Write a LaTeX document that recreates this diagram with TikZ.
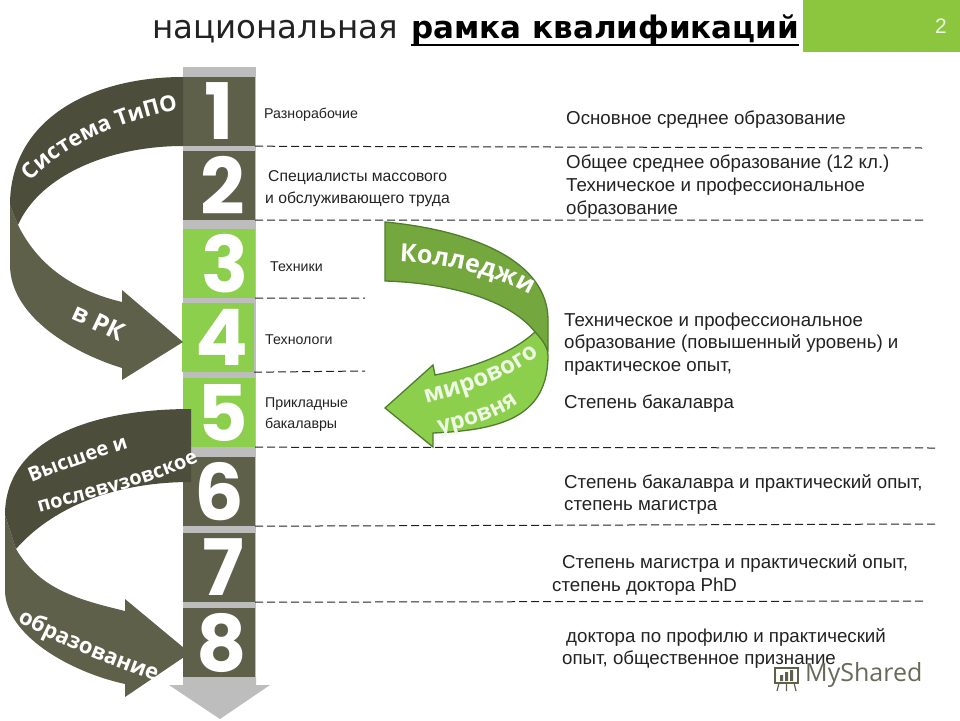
\documentclass[tikz,border=0pt]{standalone}
\usepackage{fontspec}
\setmainfont{Liberation Sans}
\newfontfamily\titlefont{DejaVu Sans}
\newfontfamily\ribbonfont{Open Sans}
\newfontfamily\digitfont{Poppins}
\usetikzlibrary{decorations.text}

\definecolor{olive}{HTML}{5E6049}
\definecolor{olivedark}{HTML}{4C4E3B}
\definecolor{leaf}{HTML}{8CCF4D}
\definecolor{leafdark}{HTML}{74A83F}
\definecolor{leafedge}{HTML}{4F7D2C}
\definecolor{badge}{HTML}{8CC63F}
\definecolor{column}{HTML}{BDBDBD}
\definecolor{ink}{HTML}{222222}

\newcommand{\lvl}[2]{\hspace*{#1pt}\raisebox{-5pt}{#2}}

\tikzset{
  tile/.style={minimum width=72pt,minimum height=69pt,inner sep=0pt,text=white,font=\digitfont\fontsize{78}{78}\selectfont\bfseries},
  oldtile/.style={tile,fill=olive},
  newtile/.style={tile,fill=leaf},
  small/.style={anchor=west,inner sep=0pt,yshift=-2pt,align=left,text=ink,font=\fontsize{14.2}{21.5}\selectfont},
  big/.style={anchor=west,inner sep=0pt,yshift=-2pt,align=left,text=ink,font=\fontsize{18.7}{22.7}\selectfont},
  ruleline/.style={draw=ink,line width=1pt,dash pattern=on 8pt off 4pt},
  curvetext/.style={decorate,decoration={text along path,text align=center,text={#1}}}
}

\begin{document}
\begin{tikzpicture}[x=1pt,y=-1pt]
  \useasboundingbox (0,0) rectangle (960,720);

  % title and page number
  \node[anchor=base west,inner sep=0pt,text=ink,font=\titlefont\fontsize{32.5}{36}\selectfont] (title) at (152,38) {национальная};
  \node[anchor=base west,inner sep=0pt,text=black,font=\titlefont\fontsize{31}{36}\selectfont\bfseries] (titlebold) at (411,38) {рамка квалификаций};
  \draw[black,line width=2.2pt] (titlebold.south west) -- (titlebold.south east);
  \node[fill=badge,minimum width=157pt,minimum height=52pt,inner sep=0pt] (badge) at (881.5,26) {};
  \node[text=white!85!badge,font=\fontsize{21}{21}\selectfont] (pagenum) at (941,26) {2};

  % lower part of the second ribbon goes under the column
  \fill[olive] (5,515) -- (5,590) .. controls (5,635) and (70,672) .. (125,684) -- (125,697) -- (190,653)
    -- (125,599) -- (125,611) .. controls (80,600) and (40,590) .. (16,549) -- cycle;

  % column
  \fill[column] (183,67) rectangle (256,680);
  \fill[column] (183,677) -- (183,685) -- (169,685) -- (220,719) -- (270,685) -- (256,685) -- (256,677) -- cycle;

  \node[oldtile] (tile1) at (219,111.5) {\lvl{0}{1}};
  \node[oldtile] (tile2) at (219,185.5) {\lvl{8}{2}};
  \node[newtile] (tile3) at (219,263.5) {\lvl{12}{3}};
  \node[newtile] (tile4) at (218,337.5) {\lvl{7}{4}};
  \node[newtile] (tile5) at (219,412.5) {\lvl{8}{5}};
  \node[oldtile] (tile6) at (219,491.5) {\lvl{0}{6}};
  \node[oldtile] (tile7) at (219,567.5) {\lvl{8}{7}};
  \node[oldtile] (tile8) at (219,642.5) {\lvl{6}{8}};

  % dashed rules
  \coordinate (rule1) at (922,148);
  \coordinate (rule2) at (926,220);
  \coordinate (rule3) at (365,298);
  \coordinate (rule4) at (365,371);
  \coordinate (rule5) at (935,448);
  \coordinate (rule6) at (935,524);
  \coordinate (rule7) at (925,601);
  \draw[ruleline] (tile1.south east) -- (rule1);
  \draw[ruleline] (tile2.south east) -- (rule2);
  \draw[ruleline] (tile3.south east) -- (rule3);
  \draw[ruleline] (tile4.south east) -- (rule4);
  \draw[ruleline] (tile5.south east) -- (rule5);
  \draw[ruleline] (tile6.south east) -- (rule6);
  \draw[ruleline] (tile7.south east) -- (rule7);

  % first ribbon
  \fill[olive] (10,205) -- (10,265) .. controls (10,315) and (70,352) .. (122,368) -- (122,380) -- (183,342)
    -- (122,290) -- (122,302) .. controls (80,292) and (40,270) .. (18,225) -- cycle;
  \fill[olivedark] (183,77) .. controls (90,77) and (10,120) .. (10,205) -- (18,225)
    .. controls (40,175) and (110,146) .. (183,146) -- cycle;

  % second ribbon
  \fill[olivedark] (191,409) .. controls (90,409) and (5,440) .. (5,515) -- (16,549)
    .. controls (50,510) and (110,482) .. (191,482) -- cycle;

  % college ribbon
  \filldraw[draw=leafedge,fill=leafdark,line width=1.3pt] (385,222) .. controls (470,230) and (548,260) .. (548,320)
    -- (548,350) -- (535,332) .. controls (510,300) and (450,283) .. (385,281) -- cycle;
  \filldraw[draw=leafedge,fill=leaf,line width=1.3pt] (535,332) .. controls (545,342) and (548,350) .. (548,355)
    .. controls (548,415) and (505,430) .. (433,433) -- (433,447) -- (385,408) -- (433,365) -- (435,375)
    .. controls (470,368) and (510,355) .. (535,332) -- cycle;

  % ribbon texts
  \path[curvetext={|\ribbonfont\fontsize{22}{22}\selectfont\bfseries\color{white}|Система ТиПО}]
    (26,188) .. controls (54,150) and (114,122) .. (186,108);
  \path[curvetext={|\ribbonfont\fontsize{25}{25}\selectfont\bfseries\color{white}|в РК}]
    (64,316) .. controls (83,324) and (103,334) .. (126,345);
  \path[curvetext={|\ribbonfont\fontsize{20}{20}\selectfont\bfseries\color{white}|Высшее и}]
    (28,484) .. controls (62,470) and (97,458) .. (132,447);
  \path[curvetext={|\ribbonfont\fontsize{20}{20}\selectfont\bfseries\color{white}|послевузовское}]
    (38,513) .. controls (82,500) and (142,488) .. (200,461);
  \path[curvetext={|\ribbonfont\fontsize{22}{22}\selectfont\bfseries\color{white}|образование}]
    (15,620) .. controls (50,640) and (100,662) .. (158,682);
  \path[curvetext={|\ribbonfont\fontsize{25}{25}\selectfont\bfseries\color{white}|Колледжи}]
    (393,262) .. controls (440,262) and (500,275) .. (536,298);
  \path[curvetext={|\ribbonfont\fontsize{24}{24}\selectfont\bfseries\color{leaf!15}|мирового}]
    (425,404) .. controls (470,392) and (510,378) .. (540,354);
  \path[curvetext={|\ribbonfont\fontsize{23}{23}\selectfont\bfseries\color{leaf!15}|уровня}]
    (435,434) .. controls (470,426) and (500,418) .. (522,400);

  % occupations
  \node[small] (worker) at (264,113) {Разнорабочие};
  \node[small,font=\fontsize{15.7}{22}\selectfont] (staff) at (265,187) {\hspace*{3pt}Специалисты массового\\и обслуживающего труда};
  \node[small] (techn) at (270,265) {Техники};
  \node[small] (technol) at (265,338) {Технологи};
  \node[small] (bach) at (265,412.5) {Прикладные\\бакалавры};

  % education
  \node[big] (edu1) at (566,118) {Основное среднее образование};
  \node[big] (edu2) at (566,184.5) {Общее среднее образование (12 кл.)\\Техническое и профессиональное\\образование};
  \node[big] (edu3) at (564,342) {Техническое и профессиональное\\образование (повышенный уровень) и\\практическое опыт,};
  \node[big] (edu4) at (564,402) {Степень бакалавра};
  \node[big] (edu5) at (564,492.5) {Степень бакалавра и практический опыт,\\степень магистра};
  \node[big] (edu6) at (552,573) {\hspace*{10pt}Степень магистра и практический опыт,\\степень доктора PhD};
  \node[big] (edu7) at (562,646.5) {\hspace*{4pt}доктора по профилю и практический\\опыт, общественное признание};

  % watermark
  \node[anchor=west,inner sep=0pt,text=olive!70!gray,font=\ribbonfont\fontsize{25}{25}\selectfont] (mark) at (805,675) {MyShared};
  \draw[olive,line width=1.4pt] (775,668) rectangle (798,683);
  \draw[olive,line width=1.2pt] (779,683) -- (777,691) (786.5,683) -- (786.5,691) (794,683) -- (796,691);
  \fill[olive] (780,675) rectangle (783,681) (785,672) rectangle (788,681) (790,670) rectangle (793,681);
\end{tikzpicture}
\end{document}
